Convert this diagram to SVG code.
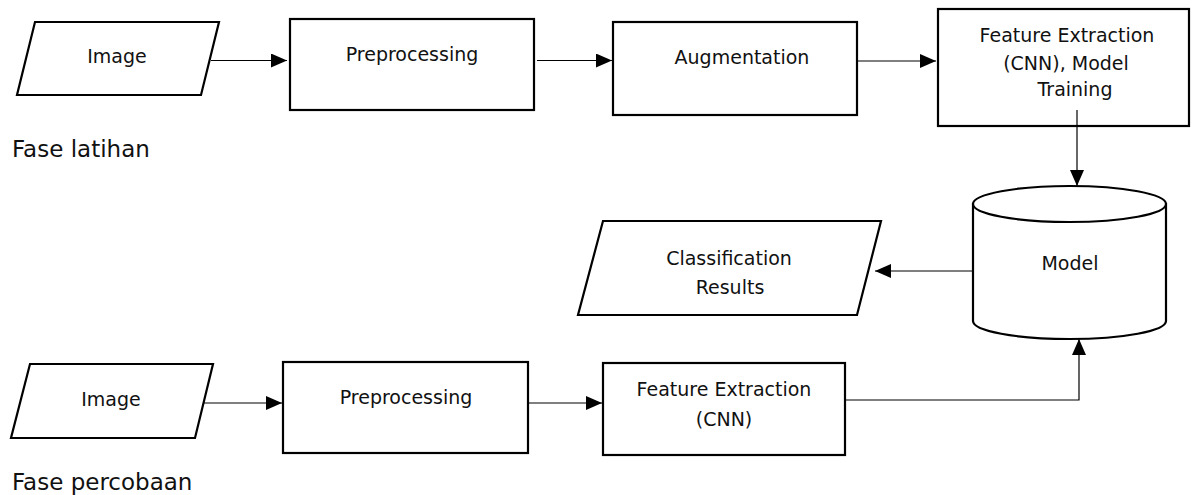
<svg xmlns="http://www.w3.org/2000/svg" width="1192" height="495" viewBox="0 0 1192 495">
<style>
.shape{fill:#fff;stroke:#000;stroke-width:2.2;stroke-linejoin:miter}
.lbl{font-family:"DejaVu Sans","Liberation Sans",sans-serif;font-size:19px;fill:#111;text-anchor:middle}
.phase{font-family:"DejaVu Sans","Liberation Sans",sans-serif;font-size:23px;fill:#111}
.conn{fill:none;stroke:#000;stroke-width:1.2}
</style>
<defs>
<marker id="arr" markerUnits="userSpaceOnUse" markerWidth="16" markerHeight="14" refX="16" refY="7" orient="auto">
<path d="M0,0 L16,7 L0,14 Z" fill="#000"/>
</marker>
</defs>
<rect width="1192" height="495" fill="#fff"/>
<g id="image-train">
<polygon class="shape" points="35,22 219,22 201,95 17,95"/>
<text class="lbl" x="117" y="63">Image</text>
</g>
<g id="preprocessing-train">
<rect class="shape" x="290" y="19" width="244" height="91"/>
<text class="lbl" x="412" y="61">Preprocessing</text>
</g>
<g id="augmentation">
<rect class="shape" x="613" y="22" width="244" height="93"/>
<text class="lbl" x="742" y="64">Augmentation</text>
</g>
<g id="feature-train">
<rect class="shape" x="938" y="9" width="251" height="117"/>
<text class="lbl" x="1067" y="42">Feature Extraction</text>
<text class="lbl" x="1066" y="70">(CNN), Model</text>
<text class="lbl" x="1075" y="96">Training</text>
</g>
<g id="model">
<path class="shape" d="M973,204 L973,321 A96.5,18 0 0 0 1166,321 L1166,204 Z"/>
<ellipse class="shape" cx="1069.5" cy="204" rx="96.5" ry="18"/>
<text class="lbl" x="1070" y="270">Model</text>
</g>
<g id="results">
<polygon class="shape" points="603,221 881,221 857,315 578,315"/>
<text class="lbl" x="729" y="265">Classification</text>
<text class="lbl" x="730" y="294">Results</text>
</g>
<g id="image-test">
<polygon class="shape" points="30,364 213,364 195,438 11,438"/>
<text class="lbl" x="111" y="406">Image</text>
</g>
<g id="preprocessing-test">
<rect class="shape" x="283" y="362" width="245" height="91"/>
<text class="lbl" x="406" y="404">Preprocessing</text>
</g>
<g id="feature-test">
<rect class="shape" x="603" y="363" width="242" height="92"/>
<text class="lbl" x="724" y="396">Feature Extraction</text>
<text class="lbl" x="724" y="426">(CNN)</text>
</g>
<g id="phase-labels">
<text class="phase" x="12" y="157">Fase latihan</text>
<text class="phase" x="12" y="490">Fase percobaan</text>
</g>
<g id="connectors">
<path class="conn" d="M211,60.5 L287,60.5" marker-end="url(#arr)"/>
<path class="conn" d="M537,60.5 L612,60.5" marker-end="url(#arr)"/>
<path class="conn" d="M857,61 L936,61" marker-end="url(#arr)"/>
<path class="conn" d="M1077,110 L1077,186" marker-end="url(#arr)"/>
<path class="conn" d="M973,271 L875,271" marker-end="url(#arr)"/>
<path class="conn" d="M203,403 L282,403" marker-end="url(#arr)"/>
<path class="conn" d="M528,403 L602,403" marker-end="url(#arr)"/>
<path class="conn" d="M845,400 L1079,400 L1079,339" marker-end="url(#arr)"/>
</g>
</svg>
